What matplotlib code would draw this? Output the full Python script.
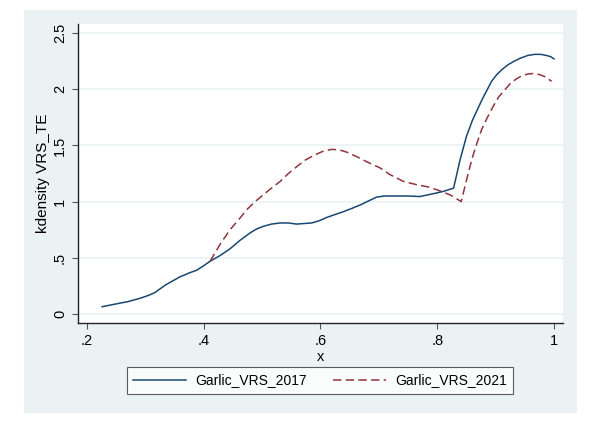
import matplotlib
matplotlib.use("Agg")
import matplotlib.pyplot as plt
from matplotlib.patches import Rectangle

# kdensity estimates
x_2017 = [0.226, 0.25, 0.27, 0.291, 0.305, 0.316, 0.335, 0.359, 0.375, 0.388,
          0.400, 0.411, 0.428, 0.445, 0.462, 0.479, 0.490, 0.502, 0.516, 0.531,
          0.545, 0.559, 0.572, 0.585, 0.598, 0.611, 0.625, 0.639, 0.654, 0.668,
          0.682, 0.696, 0.710, 0.725, 0.750, 0.770, 0.793, 0.810, 0.828, 0.839,
          0.850, 0.860, 0.868, 0.877, 0.885, 0.893, 0.902, 0.912, 0.922, 0.932,
          0.942, 0.955, 0.967, 0.977, 0.987, 0.994, 1.0]
y_2017 = [0.065, 0.09, 0.11, 0.14, 0.165, 0.19, 0.26, 0.33, 0.365, 0.39,
          0.43, 0.47, 0.52, 0.58, 0.655, 0.72, 0.755, 0.78, 0.80, 0.81,
          0.81, 0.80, 0.805, 0.81, 0.83, 0.86, 0.885, 0.91, 0.94, 0.97,
          1.005, 1.04, 1.05, 1.05, 1.05, 1.045, 1.07, 1.09, 1.12, 1.37,
          1.58, 1.72, 1.81, 1.91, 1.99, 2.07, 2.13, 2.18, 2.22, 2.25,
          2.275, 2.30, 2.31, 2.31, 2.30, 2.29, 2.27]

x_2021 = [0.411, 0.428, 0.445, 0.460, 0.474, 0.488, 0.502, 0.516, 0.531, 0.545,
          0.559, 0.574, 0.588, 0.603, 0.619, 0.632, 0.645, 0.662, 0.679, 0.702,
          0.719, 0.742, 0.765, 0.785, 0.802, 0.822, 0.841, 0.853, 0.860, 0.868,
          0.876, 0.885, 0.895, 0.905, 0.915, 0.925, 0.935, 0.945, 0.955, 0.965,
          0.975, 0.985, 0.996]
y_2021 = [0.47, 0.62, 0.75, 0.84, 0.93, 1.00, 1.06, 1.12, 1.18, 1.25,
          1.31, 1.37, 1.41, 1.445, 1.465, 1.46, 1.44, 1.40, 1.355, 1.30,
          1.24, 1.18, 1.15, 1.13, 1.10, 1.06, 1.00, 1.25, 1.39, 1.52,
          1.64, 1.74, 1.84, 1.93, 1.99, 2.05, 2.09, 2.12, 2.135, 2.14,
          2.13, 2.11, 2.07]

xticks = [0.2, 0.4, 0.6, 0.8, 1.0]
xtick_labels = [".2", ".4", ".6", ".8", "1"]
yticks = [0, 0.5, 1, 1.5, 2, 2.5]
ytick_labels = ["0", ".5", "1", "1.5", "2", "2.5"]


def main():
    plt.rcParams['font.family'] = ['Liberation Sans', 'DejaVu Sans']
    bg = '#EAF2F3'
    fig = plt.figure(figsize=(6.09, 4.40), dpi=100)
    fig.patch.set_facecolor('white')
    # Stata graph region (behind the axes)
    fig.patches.append(Rectangle((24 / 609, 1 - 413 / 440), 553 / 609, 403 / 440,
                                 transform=fig.transFigure, facecolor=bg,
                                 edgecolor='none', zorder=-10))

    ax = fig.add_axes([78 / 609, 1 - 323 / 440, 485 / 609, 299 / 440])
    ax.set_facecolor('white')
    ax.plot(x_2017, y_2017, color='#1A476F', lw=1.1, label='Garlic_VRS_2017')
    ax.plot(x_2021, y_2021, color='#90353B', lw=1.1, dashes=(5.5, 2.8),
            label='Garlic_VRS_2021')

    ax.set_xlim(0.1846, 1.0154)
    ax.set_ylim(-0.08, 2.58)
    ax.set_xticks(xticks, xtick_labels, fontsize=10.5)
    ax.set_yticks(yticks, ytick_labels, fontsize=10.5, rotation=90, va='center')
    ax.grid(axis='y', color=bg, lw=1.2)
    ax.set_axisbelow(True)
    for s in ['top', 'right']:
        ax.spines[s].set_visible(False)
    for s in ['left', 'bottom']:
        ax.spines[s].set_color('#222222')
        ax.spines[s].set_linewidth(1.0)
    ax.tick_params(length=4, width=0.8, color='#555555', pad=4)
    ax.set_xlabel('x', fontsize=10.5, labelpad=1)
    ax.set_ylabel('kdensity VRS_TE', fontsize=11, labelpad=2)

    leg = fig.legend(loc='center', bbox_to_anchor=(320 / 609, 1 - 380.5 / 440),
                     ncol=2, fontsize=10, frameon=True, fancybox=False,
                     handlelength=3.8, columnspacing=1.9, borderpad=0.45,
                     handletextpad=0.65)
    leg.get_frame().set_edgecolor('#333333')
    leg.get_frame().set_linewidth(0.8)

    fig.savefig('out.png', dpi=100, facecolor='white')


if __name__ == "__main__":
    main()
